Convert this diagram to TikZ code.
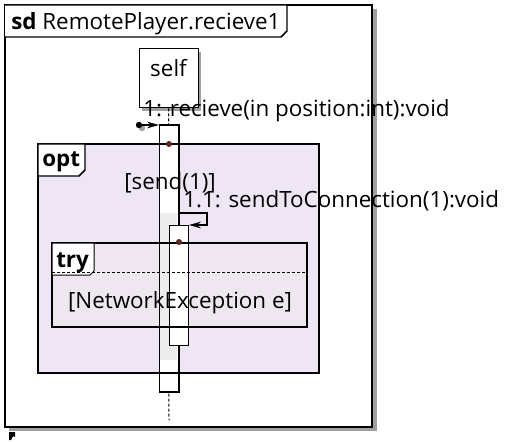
\documentclass[tikz,border=0pt]{standalone}
\usepackage{fontspec}
\setmainfont{Open Sans}
\usetikzlibrary{arrows.meta}
\definecolor{optfill}{HTML}{EFE6F5}
\definecolor{tryfill}{HTML}{EEE7EF}
\definecolor{shadowgray}{HTML}{A0A0A0}
\definecolor{actgray}{HTML}{EDEDED}
\definecolor{dotbrown}{HTML}{5A2828}
\begin{document}
\begin{tikzpicture}[x=0.75pt,y=-0.75pt,
  txt/.style={inner sep=0pt,font=\fontsize{16.8}{20}\selectfont},
  fragline/.style={line width=1.5pt},
  actbox/.style={draw=black,line width=0.75pt,fill=white},
  msgtip/.style={-{Stealth[length=9pt,width=5pt]}},
  lifedash/.style={dashed,dash pattern=on 2.25pt off 1.5pt,line width=0.75pt}]
\useasboundingbox (0,0) rectangle (505,441);
% outer frame
\fill[shadowgray] (9,9) rectangle (377,431);
\draw[fill=white,line width=1.1pt] (5,5) rectangle (372,427);
\draw[fill=white,line width=1.1pt] (5,5) -- (287,5) -- (287,31) -- (281,37) -- (5,37);
\node[txt,anchor=base west] (title) at (11,30) {\textbf{sd} RemotePlayer.recieve1};
% lifeline head
\fill[shadowgray] (142,52) rectangle (201,111);
\node[draw=black,fill=white,line width=0.75pt,minimum width=44.25pt,minimum height=44.25pt,inner sep=0pt] (self) at (168.5,78.5) {};
\node[txt,anchor=base] (selflabel) at (168.5,77) {self};
\coordinate (lifeend) at (169,420);
\draw[lifedash] (self.south) -- (lifeend);
% fragment fills
\fill[optfill] (38,144) rectangle (319,373);
\fill[tryfill] (52,243) rectangle (307,327);
% activations
\node[actbox,anchor=north west,minimum width=14.25pt,minimum height=199.5pt,inner sep=0pt] (act1) at (159,125) {};
\fill[actgray] (159.6,213) rectangle (177.4,360);
\draw[line width=0.75pt] (act1.north west) rectangle (act1.south east);
\node[actbox,anchor=north west,minimum width=14.25pt,minimum height=90pt,inner sep=0pt] (act2) at (169,225) {};
% opt fragment
\draw[fragline] (38,144) rectangle (319,373);
\draw[fill=white,line width=1.1pt] (38,144) -- (85,144) -- (85,170) -- (79,176) -- (38,176) -- cycle;
\node[txt,anchor=base west] (optlabel) at (42,167) {\textbf{opt}};
\node[txt,anchor=base west] (guard1) at (124,190) {[send(1)]};
% try fragment
\draw[fragline] (52,243) rectangle (307,327);
\draw[fill=white,line width=0.75pt] (52,243) -- (94,243) -- (94,271) -- (90,275) -- (52,275) -- cycle;
\draw[dashed,dash pattern=on 2.25pt off 1.5pt,line width=0.6pt] (52,272) -- (307,272);
\node[txt,anchor=base west] (trylabel) at (56,267) {\textbf{try}};
\node[txt,anchor=base] (guard2) at (180,308) {[NetworkException e]};
% crossing dots
\fill[dotbrown] (169,144) circle (3);
\fill[dotbrown] (179,242) circle (3);
% message 1 (found message)
\coordinate (found) at (139,125);
\fill[shadowgray] (142,128) circle (3.2);
\fill[black] (found) circle (3.2);
\draw[line width=0.9pt,msgtip] (found) -- (act1.north west);
\node[txt,anchor=base west] (m1) at (143,117) {1: recieve(in position:int):void};
% message 1.1 (self call)
\coordinate (selfa) at (178,213);
\coordinate (selfb) at (207,213);
\coordinate (selfc) at (207,225);
\draw[line width=0.9pt,msgtip] (selfa) -- (selfb) -- (selfc) -- (act2.north east);
\node[txt,anchor=base west] (m2) at (183,207) {1.1: sendToConnection(1):void};
% small corner glyph
\fill[black] (9,432) -- (15,432) -- (15,437) -- (13,436) -- (11,440) -- (9,440) -- cycle;
\end{tikzpicture}
\end{document}
